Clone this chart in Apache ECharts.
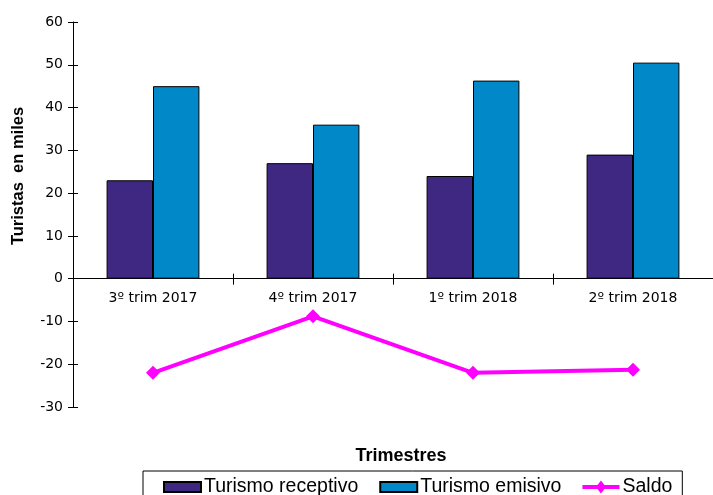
<!DOCTYPE html>
<html>
<head>
<meta charset="utf-8" />
<title>Turistas en miles</title>
<style type="text/css">
body{ margin: 0; overflow: hidden; background: #fff; }
#chart{ width: 713px; height: 495px; }
</style>
</head>
<body>
<div id="chart"></div>
<script type="text/javascript" src="https://cdn.jsdelivr.net/npm/echarts@6/dist/echarts.min.js"></script>
<script type="text/javascript">
// datos
var trimestres = ['3º trim 2017', '4º trim 2017', '1º trim 2018', '2º trim 2018'];
var receptivo = [23, 27, 24, 29];
var emisivo = [45, 36, 46.3, 50.5];
var saldo = [-22, -8.8, -22, -21.3];

var myChart = echarts.init(document.getElementById('chart'));

var labelFont = 'DejaVu Sans';
// el eje X cruza en 0: 30 de 90 unidades de la altura del grid (385px)
var zeroOffset = -385 * 30 / 90;
// iconos de leyenda (caja 37x13)
var barIcon = 'path://M0,0 M0,13 M0,1.5 L37,1.5 L37,11.5 L0,11.5 Z';
var saldoIcon = 'path://M0,4.5 L15,4.5 L18.5,0 L22,4.5 L37,4.5 L37,8.5 L22,8.5 L18.5,13 L15,8.5 L0,8.5 Z';

var option = {
    animation: false,
    grid: { left: 73, right: -7, top: 22, bottom: 88 },
    xAxis: [
        {
            type: 'category',
            data: trimestres,
            position: 'bottom',
            offset: zeroOffset,
            axisLine: { onZero: false, lineStyle: { color: '#000', width: 1 } },
            axisTick: { show: true, length: 6, lineStyle: { color: '#000' } },
            axisLabel: { color: '#000', fontFamily: labelFont, fontSize: 14, margin: 13 }
        },
        {
            // ticks hacia arriba (cruzan el eje)
            type: 'category',
            data: trimestres,
            position: 'bottom',
            offset: zeroOffset,
            axisLine: { show: false, onZero: false },
            axisTick: { show: true, inside: true, length: 5, lineStyle: { color: '#000' } },
            axisLabel: { show: false }
        }
    ],
    yAxis: [
        {
            type: 'value',
            min: -30,
            max: 60,
            interval: 10,
            axisLine: { show: true, lineStyle: { color: '#000', width: 1 } },
            axisTick: { show: true, length: 5, lineStyle: { color: '#000' } },
            axisLabel: { color: '#000', fontFamily: labelFont, fontSize: 14, margin: 10 },
            splitLine: { show: false }
        },
        {
            type: 'value',
            min: -30,
            max: 60,
            interval: 10,
            position: 'left',
            axisLine: { show: false },
            axisTick: { show: true, inside: true, length: 5, lineStyle: { color: '#000' } },
            axisLabel: { show: false },
            splitLine: { show: false }
        }
    ],
    legend: {
        left: 143,
        top: 471,
        padding: [6, 10, 8, 20],
        borderColor: '#000',
        borderWidth: 1,
        itemWidth: 37,
        itemHeight: 13,
        itemGap: 21,
        textStyle: { fontFamily: 'Liberation Sans', fontSize: 19.5, color: '#000', padding: [0, 0, 0, -2] },
        data: [
            { name: 'Turismo receptivo', icon: barIcon },
            { name: 'Turismo emisivo', icon: barIcon },
            { name: 'Saldo', icon: saldoIcon }
        ]
    },
    graphic: [
        {
            type: 'text',
            x: 18,
            y: 176,
            rotation: Math.PI / 2,
            style: {
                text: 'Turistas  en miles',
                font: 'bold 16.5px "Liberation Sans"',
                fill: '#000',
                align: 'center',
                verticalAlign: 'middle'
            }
        },
        {
            type: 'text',
            x: 401,
            y: 456,
            style: {
                text: 'Trimestres',
                font: 'bold 18px "Liberation Sans"',
                fill: '#000',
                align: 'center',
                verticalAlign: 'middle'
            }
        }
    ],
    series: [
        {
            name: 'Turismo receptivo',
            type: 'bar',
            data: receptivo,
            barGap: '0%',
            barCategoryGap: '42%',
            itemStyle: { color: '#3F2882', borderColor: '#000', borderWidth: 1 }
        },
        {
            name: 'Turismo emisivo',
            type: 'bar',
            data: emisivo,
            barGap: '0%',
            barCategoryGap: '42%',
            itemStyle: { color: '#0088C8', borderColor: '#000', borderWidth: 1 }
        },
        {
            name: 'Saldo',
            type: 'line',
            data: saldo,
            symbol: 'diamond',
            symbolSize: 14,
            lineStyle: { color: '#FF00FF', width: 4 },
            itemStyle: { color: '#FF00FF' }
        }
    ]
};

myChart.setOption(option);
</script>
</body>
</html>
